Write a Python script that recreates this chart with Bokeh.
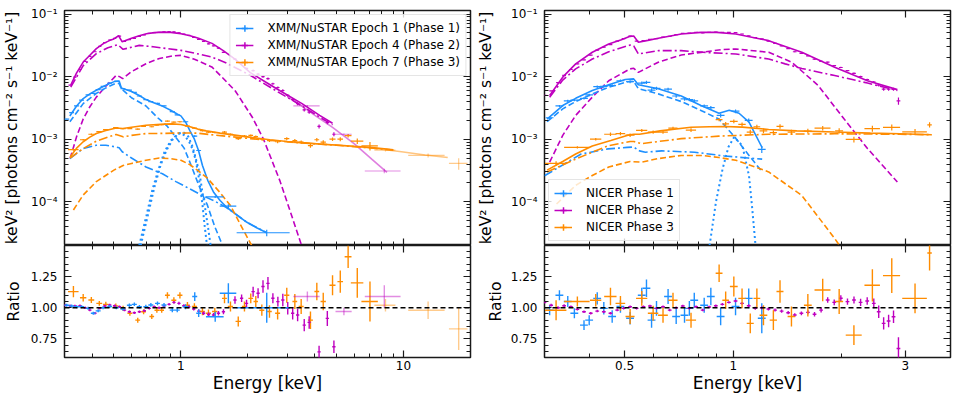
import math
from bokeh.plotting import figure
from bokeh.models import (Range1d, LogAxis, LinearAxis, FixedTicker, CustomJSTickFormatter,
                          Legend, LegendItem, Span, ColumnDataSource)
from bokeh.layouts import row, column
from bokeh.embed import file_html
from bokeh.resources import INLINE

BLUE = "#1E90FF"
MAG = "#BF00BF"
ORG = "#FF8C00"
FONT = "DejaVu Sans"
FRAME = "#1a1a1a"

# ---------------- LEFT PANEL : XMM/NuSTAR models ----------------
Lb_tot_E = [0.317, 0.34, 0.364, 0.39, 0.417, 0.45, 0.48, 0.505, 0.528, 0.54, 0.6, 0.65, 0.697, 0.75, 0.83, 0.9, 0.966, 1.0, 1.052, 1.1, 1.15, 1.2, 1.25, 1.32, 1.406, 1.5, 1.61, 1.8, 1.98, 2.2, 2.43]
Lb_tot_F = [2.35e-3, 3.4e-3, 4.46e-3, 5.3e-3, 6.05e-3, 7.0e-3, 7.8e-3, 8.4e-3, 8.5e-3, 6.6e-3, 5.8e-3, 5.0e-3, 4.3e-3, 3.85e-3, 3.35e-3, 2.9e-3, 2.5e-3, 2.36e-3, 1.85e-3, 1.35e-3, 1.0e-3, 6.6e-4, 3.8e-4, 2.2e-4, 1.4e-4, 1.05e-4, 8.1e-5, 6.0e-5, 4.7e-5, 3.8e-5, 3.2e-5]
Lb_dash_E = [0.317, 0.364, 0.417, 0.46, 0.505, 0.528, 0.54, 0.6, 0.697, 0.787, 0.87, 0.934, 1.034, 1.1, 1.186, 1.25, 1.313, 1.42, 1.53]
Lb_dash_F = [1.9e-3, 3.7e-3, 5.4e-3, 6.6e-3, 7.7e-3, 7.8e-3, 6.4e-3, 4.6e-3, 3.4e-3, 2.2e-3, 1.6e-3, 1.15e-3, 7.2e-4, 4.2e-4, 2.1e-4, 1.3e-4, 9e-5, 4e-5, 2.1e-5]
Lb_dd_E = [0.317, 0.364, 0.417, 0.46, 0.5, 0.528, 0.545, 0.6, 0.697, 0.826, 0.95, 1.1, 1.25, 1.4, 1.61, 1.98, 2.43]
Lb_dd_F = [4.9e-4, 7.1e-4, 8.0e-4, 8.0e-4, 7.6e-4, 7.3e-4, 6.3e-4, 5.0e-4, 3.6e-4, 2.8e-4, 2.1e-4, 1.6e-4, 1.25e-4, 1.05e-4, 8.0e-5, 4.7e-5, 3.2e-5]
Lb_dot1_E = [0.65, 0.70, 0.746, 0.80, 0.843, 0.90, 0.966, 1.0, 1.04, 1.09, 1.13, 1.166, 1.20, 1.227, 1.25, 1.28, 1.31]
Lb_dot1_F = [2e-5, 6e-5, 1.6e-4, 3.6e-4, 6.2e-4, 9.5e-4, 1.2e-3, 1.25e-3, 1.15e-3, 9e-4, 6.8e-4, 4.6e-4, 2.6e-4, 1.5e-4, 9e-5, 4e-5, 2e-5]
Lb_dot2_E = [0.66, 0.71, 0.76, 0.81, 0.86, 0.92, 0.98, 1.03, 1.08, 1.13, 1.18, 1.21, 1.25, 1.29, 1.33, 1.36]
Lb_dot2_F = [2e-5, 6e-5, 1.7e-4, 3.8e-4, 6.6e-4, 1.0e-3, 1.25e-3, 1.28e-3, 1.1e-3, 7.5e-4, 4.2e-4, 3.0e-4, 1.4e-4, 7.2e-5, 3.5e-5, 2e-5]

Lm_tot_E = [0.32, 0.34, 0.364, 0.39, 0.417, 0.45, 0.48, 0.50, 0.525, 0.545, 0.6, 0.65, 0.70, 0.76, 0.83, 0.9, 1.0, 1.1, 1.2, 1.38, 1.55, 1.75, 2.05, 2.4, 2.8, 3.5, 4.2, 4.8]
Lm_tot_F = [7.3e-3, 1.15e-2, 1.71e-2, 2.2e-2, 2.8e-2, 3.4e-2, 3.8e-2, 4.0e-2, 4.5e-2, 3.6e-2, 4.1e-2, 4.5e-2, 4.85e-2, 5.05e-2, 5.15e-2, 5.1e-2, 4.86e-2, 4.5e-2, 4.1e-2, 3.4e-2, 2.6e-2, 1.9e-2, 1.16e-2, 8.2e-3, 5.9e-3, 3.7e-3, 2.4e-3, 1.8e-3]
Lm_nu_E = [3.0, 3.3, 4.0, 4.8, 6.0, 7.2, 8.43]
Lm_nu_F = [4.8e-3, 3.9e-3, 2.4e-3, 1.55e-3, 8.5e-4, 4.8e-4, 2.94e-4]
Lm_dd_E = [0.32, 0.364, 0.417, 0.47, 0.521, 0.55, 0.6, 0.65, 0.75, 0.83, 1.0, 1.2, 1.38, 1.6, 2.05, 2.8, 3.5, 4.2, 4.8]
Lm_dd_F = [6.8e-3, 1.5e-2, 2.33e-2, 2.9e-2, 3.24e-2, 2.73e-2, 2.95e-2, 3.16e-2, 3.0e-2, 2.86e-2, 2.63e-2, 2.3e-2, 2.05e-2, 1.65e-2, 1.05e-2, 5.4e-3, 3.4e-3, 2.25e-3, 1.7e-3]
Lm_dash_E = [0.318, 0.34, 0.364, 0.39, 0.417, 0.46, 0.512, 0.53, 0.548, 0.6, 0.697, 0.8, 0.915, 1.0, 1.15, 1.377, 1.51, 1.756, 2.1, 2.35, 2.55, 2.78, 3.1, 3.47]
Lm_dash_F = [4.9e-4, 1.1e-3, 2.1e-3, 3.3e-3, 4.7e-3, 7.0e-3, 1.05e-2, 1.0e-2, 9.3e-3, 1.2e-2, 1.61e-2, 1.95e-2, 2.14e-2, 2.19e-2, 1.9e-2, 1.43e-2, 1.03e-2, 5.9e-3, 2.2e-3, 1.0e-3, 4.8e-4, 2.2e-4, 7e-5, 2.1e-5]

Lo_tot_E = [0.318, 0.34, 0.364, 0.39, 0.417, 0.46, 0.512, 0.548, 0.6, 0.697, 0.843, 0.915, 1.0, 1.1, 1.19, 1.3, 1.5, 1.78, 2.1, 2.51, 3.0, 3.53, 4.2, 4.97, 6.0, 7.0, 8.0, 9.0]
Lo_tot_F = [5.2e-4, 7.2e-4, 9.1e-4, 1.08e-3, 1.23e-3, 1.38e-3, 1.51e-3, 1.48e-3, 1.55e-3, 1.67e-3, 1.74e-3, 1.76e-3, 1.72e-3, 1.58e-3, 1.45e-3, 1.36e-3, 1.25e-3, 1.15e-3, 1.06e-3, 9.8e-4, 9.2e-4, 8.8e-4, 8.4e-4, 8.1e-4, 7.7e-4, 7.4e-4, 7.1e-4, 6.8e-4]
Lo_nu_E = [3.0, 5.0, 7.0, 9.8, 12.5, 15.8]
Lo_nu_F = [9.0e-4, 8.0e-4, 7.3e-4, 6.3e-4, 5.6e-4, 5.1e-4]
Lo_dd_E = [0.318, 0.364, 0.417, 0.47, 0.512, 0.55, 0.6, 0.697, 0.843, 1.0, 1.186, 1.4, 1.67, 2.0, 2.5, 3.5, 5.0, 7.0, 9.0]
Lo_dd_F = [5.0e-4, 7.1e-4, 9.3e-4, 1.08e-3, 1.19e-3, 1.09e-3, 1.15e-3, 1.23e-3, 1.24e-3, 1.26e-3, 1.25e-3, 1.17e-3, 1.1e-3, 1.03e-3, 9.6e-4, 8.7e-4, 8.0e-4, 7.3e-4, 6.7e-4]
Lo_dash_E = [0.329, 0.364, 0.417, 0.5, 0.55, 0.6, 0.697, 0.8, 0.9, 1.0, 1.1, 1.186, 1.313, 1.5, 1.67, 1.91, 2.08]
Lo_dash_F = [7.4e-5, 1.28e-4, 2.1e-4, 3.2e-4, 3.8e-4, 4.1e-4, 4.6e-4, 5.0e-4, 4.9e-4, 4.6e-4, 3.9e-4, 3.2e-4, 2.4e-4, 1.4e-4, 8.7e-5, 3.5e-5, 2.0e-5]

# ---------------- LEFT PANEL : data (energy, half-width, flux, ratio, ratio error) ----------------
Eb1 = [0.307, 0.323, 0.340, 0.358, 0.383, 0.404, 0.425, 0.447, 0.479, 0.513, 0.549, 0.587, 0.618, 0.651, 0.696, 0.733, 0.785, 0.840, 0.915, 0.963, 1.049, 1.154, 1.202, 1.426, 1.634, 2.43]
dEb1 = [0.008, 0.008, 0.009, 0.009, 0.01, 0.01, 0.011, 0.011, 0.012, 0.013, 0.014, 0.015, 0.016, 0.017, 0.018, 0.019, 0.02, 0.022, 0.024, 0.025, 0.03, 0.03, 0.03, 0.13, 0.14, 0.65]
Fb1 = [2.1e-3, 2.65e-3, 3.4e-3, 4.2e-3, 5.1e-3, 5.4e-3, 6.2e-3, 7.0e-3, 7.9e-3, 8.4e-3, 6.4e-3, 6.1e-3, 5.6e-3, 4.9e-3, 4.3e-3, 4.0e-3, 3.75e-3, 3.4e-3, 2.75e-3, 2.45e-3, 1.9e-3, 1.12e-3, 6.6e-4, 1.2e-4, 8.5e-5, 3.2e-5]
Rb1 = [1.02, 1.014, 1.008, 1.008, 0.995, 0.955, 0.975, 1.0, 1.01, 1.0, 0.99, 1.02, 1.027, 1.008, 1.008, 1.022, 1.035, 1.022, 0.981, 0.981, 1.008, 1.09, 0.955, 0.927, 1.116, 1.0]
eRb1 = [0.012, 0.012, 0.012, 0.012, 0.012, 0.012, 0.012, 0.012, 0.012, 0.012, 0.012, 0.014, 0.014, 0.014, 0.015, 0.015, 0.016, 0.016, 0.018, 0.018, 0.02, 0.035, 0.03, 0.04, 0.08, 0.12]

Em1 = [0.302, 0.318, 0.334, 0.352, 0.371, 0.390, 0.411, 0.432, 0.455, 0.479, 0.504, 0.530, 0.558, 0.587, 0.618, 0.651, 0.685, 0.721, 0.759, 0.798, 0.840, 0.885, 0.931, 0.980, 1.031, 1.085, 1.142, 1.202, 1.265, 1.332, 1.402, 1.475, 1.553, 1.750, 1.874, 1.972, 2.111, 2.222, 2.338, 2.461, 2.590, 2.727, 2.870, 3.020, 3.178, 3.345, 3.582, 3.770, 4.176, 4.548, 4.869]
Fm1 = [6.0e-3, 7.3e-3, 9.8e-3, 1.3e-2, 1.75e-2, 2.1e-2, 2.5e-2, 3.05e-2, 3.5e-2, 3.85e-2, 4.1e-2, 4.45e-2, 3.65e-2, 3.9e-2, 4.1e-2, 4.4e-2, 4.65e-2, 4.9e-2, 5.05e-2, 5.1e-2, 5.2e-2, 5.25e-2, 5.2e-2, 5.0e-2, 4.8e-2, 4.55e-2, 4.25e-2, 3.95e-2, 3.65e-2, 3.35e-2, 3.1e-2, 2.85e-2, 2.45e-2, 1.9e-2, 1.65e-2, 1.35e-2, 1.25e-2, 1.1e-2, 1.0e-2, 9.3e-3, 7.7e-3, 6.7e-3, 6.0e-3, 5.0e-3, 4.3e-3, 3.7e-3, 2.95e-3, 2.7e-3, 1.6e-3, 1.85e-3, 1.2e-3]
Rm1 = [1.02, 1.016, 1.014, 1.016, 1.0, 0.981, 0.955, 0.995, 1.014, 1.022, 1.016, 1.008, 0.981, 0.968, 0.96, 0.968, 0.976, 0.995, 1.008, 1.0, 1.014, 1.027, 1.043, 1.035, 1.016, 1.008, 0.99, 0.973, 0.955, 0.946, 0.941, 0.955, 0.968, 1.062, 1.076, 1.035, 1.129, 1.116, 1.17, 1.196, 1.076, 1.049, 1.062, 0.995, 0.955, 0.941, 0.86, 0.882, 0.645, 0.914, 0.686]
eRm1 = [0.01, 0.01, 0.01, 0.01, 0.01, 0.01, 0.01, 0.01, 0.01, 0.01, 0.01, 0.01, 0.01, 0.01, 0.01, 0.01, 0.01, 0.01, 0.01, 0.01, 0.01, 0.01, 0.012, 0.012, 0.012, 0.012, 0.012, 0.014, 0.014, 0.016, 0.016, 0.018, 0.02, 0.03, 0.03, 0.03, 0.04, 0.04, 0.05, 0.05, 0.04, 0.04, 0.05, 0.05, 0.05, 0.05, 0.05, 0.05, 0.05, 0.06, 0.05]
dEm1_frac = 0.017

Em1n = [3.7, 5.4, 8.2]
dEm1n = [0.5, 0.45, 1.5]
Fm1n = [3.4e-3, 1.2e-3, 3.1e-4]
Rm1n = [1.09, 0.97, 1.09]
eRm1n = [0.04, 0.03, 0.09]

Eo1 = [0.329, 0.364, 0.396, 0.43, 0.46, 0.51, 0.55, 0.59, 0.64, 0.68, 0.74, 0.78, 0.82, 0.87, 0.93, 0.99, 1.07, 1.15, 1.25, 1.33, 1.42, 1.57, 1.67, 1.81, 1.93, 2.06, 2.17, 2.31, 2.5, 2.72, 2.99, 3.25, 3.47, 3.82, 4.08, 4.36, 4.8, 5.2, 5.64, 6.2, 7.07]
dEo1 = [0.018, 0.012, 0.012, 0.013, 0.013, 0.014, 0.015, 0.015, 0.016, 0.017, 0.018, 0.019, 0.02, 0.022, 0.024, 0.026, 0.028, 0.03, 0.032, 0.035, 0.04, 0.04, 0.045, 0.05, 0.05, 0.05, 0.05, 0.06, 0.06, 0.07, 0.08, 0.08, 0.09, 0.1, 0.1, 0.12, 0.15, 0.15, 0.2, 0.4, 0.6]
Fo1 = [6.8e-4, 9.8e-4, 1.2e-3, 1.32e-3, 1.42e-3, 1.53e-3, 1.47e-3, 1.48e-3, 1.45e-3, 1.6e-3, 1.58e-3, 1.68e-3, 1.71e-3, 1.94e-3, 1.88e-3, 1.9e-3, 1.62e-3, 1.5e-3, 1.37e-3, 1.3e-3, 1.28e-3, 1.3e-3, 1.19e-3, 1.02e-3, 1.12e-3, 1.15e-3, 1.1e-3, 1.0e-3, 9.5e-4, 9.1e-4, 1.02e-3, 9.5e-4, 9.0e-4, 7.9e-4, 9.8e-4, 9.0e-4, 1.0e-3, 1.0e-3, 1.14e-3, 9.3e-4, 7.8e-4]
Ro1 = [1.129, 1.08, 1.062, 1.035, 1.027, 1.014, 0.995, 0.955, 0.90, 0.968, 0.93, 0.98, 0.98, 1.10, 1.06, 1.10, 1.02, 1.01, 0.97, 0.955, 0.97, 1.075, 1.01, 0.89, 1.01, 1.075, 1.05, 0.98, 0.97, 0.955, 1.10, 1.05, 1.01, 0.90, 1.13, 1.05, 1.18, 1.21, 1.41, 1.20, 1.05]
eRo1 = [0.045, 0.03, 0.025, 0.02, 0.02, 0.02, 0.02, 0.02, 0.02, 0.02, 0.02, 0.02, 0.02, 0.025, 0.025, 0.025, 0.025, 0.025, 0.03, 0.03, 0.03, 0.04, 0.04, 0.04, 0.04, 0.04, 0.045, 0.045, 0.05, 0.05, 0.06, 0.06, 0.06, 0.07, 0.07, 0.07, 0.08, 0.09, 0.09, 0.12, 0.16]

Eo1n = [8.3, 12.9, 17.7]
dEo1n = [0.9, 2.4, 1.7]
Fo1n = [6.7e-4, 5.5e-4, 4.1e-4]
Ro1n = [1.02, 0.98, 0.83]
eRo1n = [0.05, 0.07, 0.17]

# ---------------- RIGHT PANEL : NICER models ----------------
Rm_tot_E = [0.31, 0.337, 0.366, 0.407, 0.452, 0.49, 0.518, 0.53, 0.546, 0.58, 0.62, 0.718, 0.814, 0.9, 1.017, 1.254, 1.549, 1.91, 2.355, 2.85]
Rm_tot_F = [5.0e-3, 9.8e-3, 1.6e-2, 2.45e-2, 3.32e-2, 3.9e-2, 4.4e-2, 4.45e-2, 3.55e-2, 3.8e-2, 4.1e-2, 4.8e-2, 5.1e-2, 5.1e-2, 4.8e-2, 3.76e-2, 2.45e-2, 1.41e-2, 8.6e-3, 6.2e-3]
Rm_dd_E = [0.31, 0.337, 0.366, 0.407, 0.452, 0.518, 0.53, 0.546, 0.62, 0.718, 0.824, 1.017, 1.254, 1.393, 1.549, 1.91, 2.355, 2.85]
Rm_dd_F = [4.7e-3, 8.8e-3, 1.33e-2, 1.91e-2, 2.5e-2, 3.2e-2, 3.1e-2, 2.3e-2, 2.6e-2, 2.6e-2, 2.45e-2, 2.3e-2, 1.91e-2, 1.6e-2, 1.35e-2, 1.04e-2, 7.9e-3, 6.0e-3]
Rm_dash_E = [0.31, 0.337, 0.366, 0.407, 0.452, 0.518, 0.53, 0.546, 0.62, 0.718, 0.93, 1.017, 1.254, 1.453, 1.72, 2.03, 2.355, 2.85]
Rm_dash_F = [4.3e-4, 1.15e-3, 2.4e-3, 4.7e-3, 8.6e-3, 1.33e-2, 1.36e-2, 1.17e-2, 1.7e-2, 2.22e-2, 2.7e-2, 2.77e-2, 2.45e-2, 1.7e-2, 7.2e-3, 2.1e-3, 7.1e-4, 2.07e-4]

Rb_tot_E = [0.305, 0.337, 0.366, 0.407, 0.452, 0.502, 0.53, 0.546, 0.62, 0.718, 0.814, 0.913, 0.975, 1.038, 1.106, 1.203]
Rb_tot_F = [2.1e-3, 3.45e-3, 4.5e-3, 6.0e-3, 7.4e-3, 9.0e-3, 9.2e-3, 7.4e-3, 6.4e-3, 4.9e-3, 3.45e-3, 2.6e-3, 2.9e-3, 2.6e-3, 1.88e-3, 7.3e-4]
Rb_dash_E = [0.305, 0.337, 0.366, 0.407, 0.452, 0.51, 0.53, 0.546, 0.62, 0.718, 0.814, 0.913, 1.017, 1.106, 1.203]
Rb_dash_F = [1.9e-3, 3.05e-3, 4.0e-3, 5.3e-3, 6.76e-3, 8.3e-3, 8.4e-3, 6.4e-3, 5.3e-3, 4.0e-3, 2.88e-3, 2.1e-3, 1.03e-3, 5.5e-4, 3.0e-4]
Rb_dd_E = [0.30, 0.379, 0.45, 0.508, 0.53, 0.55, 0.571, 0.634, 0.782, 0.945, 1.1, 1.203]
Rb_dd_F = [2.6e-4, 5.8e-4, 7.0e-4, 7.4e-4, 7.5e-4, 6.5e-4, 6.2e-4, 6.5e-4, 6.2e-4, 5.4e-4, 5.0e-4, 4.8e-4]
Rb_dot_E = [0.86, 0.896, 0.935, 0.97, 1.006, 1.06, 1.106, 1.129, 1.153]
Rb_dot_F = [2e-5, 1.0e-4, 3.4e-4, 7.5e-4, 1.08e-3, 7.9e-4, 2.6e-4, 7.8e-5, 2e-5]

Ro_tot_E = [0.305, 0.337, 0.366, 0.407, 0.458, 0.508, 0.53, 0.55, 0.627, 0.764, 0.86, 0.95, 1.06, 1.254, 1.5, 1.91, 2.4, 2.9, 3.55]
Ro_tot_F = [3.2e-4, 4.4e-4, 5.8e-4, 7.8e-4, 9.5e-4, 1.15e-3, 1.2e-3, 1.2e-3, 1.36e-3, 1.55e-3, 1.58e-3, 1.6e-3, 1.56e-3, 1.43e-3, 1.36e-3, 1.3e-3, 1.25e-3, 1.22e-3, 1.18e-3]
Ro_dd_E = [0.305, 0.366, 0.407, 0.452, 0.518, 0.53, 0.557, 0.718, 0.913, 1.254, 1.91, 2.9, 3.55]
Ro_dd_F = [3.0e-4, 4.8e-4, 6.2e-4, 7.9e-4, 9.2e-4, 9.2e-4, 8.5e-4, 1.02e-3, 1.12e-3, 1.2e-3, 1.22e-3, 1.2e-3, 1.18e-3]
Ro_dash_E = [0.324, 0.366, 0.407, 0.452, 0.518, 0.557, 0.62, 0.718, 0.82, 0.913, 1.017, 1.254, 1.549, 1.91, 1.97]
Ro_dash_F = [9.2e-5, 1.83e-4, 2.63e-4, 3.6e-4, 4.4e-4, 4.3e-4, 4.9e-4, 5.5e-4, 5.5e-4, 5.1e-4, 4.6e-4, 3.0e-4, 1.26e-4, 2.6e-5, 2.0e-5]

# ---------------- RIGHT PANEL : NICER data ----------------
Eb2 = [0.31, 0.33, 0.348, 0.363, 0.386, 0.399, 0.42, 0.438, 0.462, 0.487, 0.518, 0.558, 0.575, 0.594, 0.613, 0.66, 0.695, 0.733, 0.756, 0.78, 0.831, 0.867, 0.923, 1.015, 1.104, 1.2]
Fb2 = [2.2e-3, 3.4e-3, 4.1e-3, 4.2e-3, 4.5e-3, 5.1e-3, 6.9e-3, 7.0e-3, 7.2e-3, 8.6e-3, 8.3e-3, 7.9e-3, 8.1e-3, 6.1e-3, 6.5e-3, 6.3e-3, 4.9e-3, 4.4e-3, 4.3e-3, 4.1e-3, 3.4e-3, 3.2e-3, 2.4e-3, 2.8e-3, 2.0e-3, 6.9e-4]
Rb2 = [0.98, 1.10, 1.05, 0.955, 0.86, 0.90, 1.075, 0.995, 0.93, 1.01, 0.915, 1.10, 1.156, 0.90, 0.995, 1.09, 0.93, 0.94, 0.995, 1.06, 1.02, 1.09, 0.93, 1.01, 1.075, 0.915]
eRb2 = [0.04, 0.04, 0.045, 0.04, 0.04, 0.04, 0.05, 0.05, 0.05, 0.05, 0.05, 0.06, 0.07, 0.06, 0.06, 0.06, 0.06, 0.06, 0.06, 0.06, 0.06, 0.07, 0.07, 0.07, 0.08, 0.12]
dEb2_frac = 0.025

Em2 = [0.300, 0.313, 0.327, 0.340, 0.355, 0.370, 0.386, 0.403, 0.420, 0.438, 0.457, 0.477, 0.497, 0.518, 0.540, 0.564, 0.588, 0.613, 0.639, 0.667, 0.695, 0.725, 0.756, 0.789, 0.823, 0.858, 0.895, 0.933, 0.973, 1.015, 1.058, 1.104, 1.151, 1.200, 1.252, 1.306, 1.362, 1.420, 1.481, 1.545, 1.611, 1.680, 1.752, 1.827, 1.905, 1.987, 2.073, 2.161, 2.254, 2.351, 2.452, 2.530, 2.611, 2.695, 2.781, 2.870]
Fm2 = [5.0e-3, 5.9e-3, 8.0e-3, 1.05e-2, 1.3e-2, 1.6e-2, 1.85e-2, 2.2e-2, 2.65e-2, 2.95e-2, 3.25e-2, 3.7e-2, 4.05e-2, 4.45e-2, 3.7e-2, 3.75e-2, 3.95e-2, 4.05e-2, 4.3e-2, 4.4e-2, 4.7e-2, 4.9e-2, 4.95e-2, 5.1e-2, 5.0e-2, 5.1e-2, 5.15e-2, 5.1e-2, 5.1e-2, 5.05e-2, 4.8e-2, 4.5e-2, 4.2e-2, 4.0e-2, 3.7e-2, 3.4e-2, 3.1e-2, 2.8e-2, 2.5e-2, 2.35e-2, 2.15e-2, 1.9e-2, 1.75e-2, 1.7e-2, 1.5e-2, 1.4e-2, 1.25e-2, 1.13e-2, 1.0e-2, 9.0e-3, 8.2e-3, 7.3e-3, 6.3e-3, 6.3e-3, 6.3e-3, 4.1e-3]
Rm2 = [1.043, 1.02, 1.0, 1.016, 1.008, 0.987, 0.968, 0.955, 0.973, 0.968, 0.955, 0.981, 0.995, 1.008, 0.995, 1.008, 1.014, 0.995, 1.008, 0.981, 1.0, 1.014, 0.995, 1.008, 0.981, 1.006, 1.016, 1.027, 1.043, 1.054, 1.035, 1.016, 0.995, 1.0, 0.99, 0.981, 0.973, 0.96, 0.941, 0.955, 0.963, 0.947, 0.981, 1.062, 1.043, 1.076, 1.049, 1.062, 1.043, 1.054, 1.035, 0.968, 0.874, 0.893, 0.928, 0.672]
eRm2 = [0.012, 0.011, 0.011, 0.011, 0.01, 0.01, 0.01, 0.01, 0.01, 0.01, 0.01, 0.01, 0.01, 0.01, 0.01, 0.01, 0.01, 0.01, 0.01, 0.01, 0.01, 0.01, 0.01, 0.01, 0.01, 0.01, 0.01, 0.01, 0.01, 0.011, 0.011, 0.011, 0.012, 0.012, 0.012, 0.012, 0.013, 0.013, 0.014, 0.015, 0.016, 0.018, 0.02, 0.022, 0.024, 0.025, 0.026, 0.028, 0.03, 0.03, 0.04, 0.05, 0.05, 0.05, 0.05, 0.09]
dEm2_frac = 0.012

Eo2 = [0.323, 0.37, 0.416, 0.457, 0.487, 0.518, 0.558, 0.60, 0.639, 0.681, 0.764, 0.914, 0.953, 1.004, 1.058, 1.115, 1.163, 1.213, 1.292, 1.348, 1.45, 1.61, 1.77, 1.966, 2.16, 2.43, 2.75, 3.19, 3.5]
dEo2 = [0.022, 0.03, 0.015, 0.018, 0.015, 0.015, 0.02, 0.02, 0.02, 0.02, 0.025, 0.02, 0.02, 0.025, 0.025, 0.025, 0.025, 0.03, 0.03, 0.03, 0.035, 0.04, 0.09, 0.05, 0.11, 0.12, 0.15, 0.25, 0.05]
Fo2 = [4.1e-4, 7.4e-4, 1.0e-3, 1.2e-3, 1.23e-3, 1.16e-3, 1.38e-3, 1.3e-3, 1.3e-3, 1.5e-3, 1.4e-3, 2.05e-3, 1.76e-3, 1.93e-3, 1.72e-3, 1.3e-3, 1.58e-3, 1.36e-3, 1.27e-3, 1.6e-3, 1.3e-3, 1.35e-3, 1.5e-3, 1.36e-3, 9.9e-4, 1.48e-3, 1.55e-3, 1.31e-3, 1.7e-3]
Ro2 = [0.98, 1.05, 1.06, 1.09, 1.035, 0.93, 1.075, 0.955, 0.94, 1.06, 0.90, 1.277, 1.06, 1.17, 1.075, 0.874, 1.075, 0.94, 0.90, 1.13, 0.93, 1.02, 1.143, 1.05, 0.78, 1.18, 1.258, 1.075, 1.44]
eRo2 = [0.08, 0.04, 0.05, 0.07, 0.06, 0.06, 0.06, 0.06, 0.06, 0.06, 0.06, 0.07, 0.07, 0.08, 0.08, 0.08, 0.08, 0.08, 0.08, 0.09, 0.08, 0.09, 0.09, 0.1, 0.08, 0.13, 0.14, 0.12, 0.14]

# ---------------- axis ticks / labels ----------------
L_XMAJ = [1, 10]
L_XMIN = [0.3, 0.4, 0.5, 0.6, 0.7, 0.8, 0.9, 2, 3, 4, 5, 6, 7, 8, 9, 20]
R_XMAJ = [0.5, 1, 3]
R_XMIN = [0.3, 0.4, 0.6, 0.7, 0.8, 0.9, 2, 4]
Y_MAJ = [1e-4, 1e-3, 1e-2, 1e-1]
Y_MIN = [m * 10.0 ** k for k in (-5, -4, -3, -2, -1) for m in range(2, 10)]
R_MAJ = [0.75, 1.0, 1.25]
R_MIN = [round(0.6 + 0.05 * i, 2) for i in range(19)]
Y_LO, Y_HI = 2e-5, 0.114
R_LO, R_HI = 0.6, 1.5

YLAB = "keV² [photons cm⁻² s⁻¹ keV⁻¹]"
XLAB = "Energy [keV]"

SUP = CustomJSTickFormatter(code="""
const m = {"-":"⁻","0":"⁰","1":"¹","2":"²","3":"³","4":"⁴","5":"⁵","6":"⁶","7":"⁷","8":"⁸","9":"⁹"};
const e = Math.round(Math.log10(tick));
return "10" + String(e).split("").map(c => m[c]).join("");
""")
PLAIN = CustomJSTickFormatter(code="return String(Math.round(tick*100)/100);")
FIX2 = CustomJSTickFormatter(code="return tick.toFixed(2);")
BLANK = CustomJSTickFormatter(code="return '';")

# layout sizes (page has no margin in the Bokeh template: use full 954 x 396)
TOP_H, BOT_H = 245, 151
LW, RW = 474, 480
L_MBL, R_MBL = 60, 66


def style_axis(ax, major, minor, formatter, show, label=None, lsize="15px", lstand=2):
    ax.ticker = FixedTicker(ticks=major, minor_ticks=minor)
    ax.formatter = formatter if show else BLANK
    ax.major_tick_in = 7
    ax.major_tick_out = 0
    ax.minor_tick_in = 4
    ax.minor_tick_out = 0
    ax.major_tick_line_color = FRAME
    ax.minor_tick_line_color = FRAME
    ax.major_tick_line_width = 1.2
    ax.minor_tick_line_width = 1
    ax.axis_line_color = None
    ax.major_label_text_font = FONT
    ax.major_label_text_color = "black"
    if show:
        ax.major_label_text_font_size = "12px"
        ax.major_label_standoff = 7
    else:
        ax.major_label_text_font_size = "1px"
        ax.major_label_standoff = 0
    if label:
        ax.axis_label = label
        ax.axis_label_text_font = FONT
        ax.axis_label_text_font_size = lsize
        ax.axis_label_text_font_style = "normal"
        ax.axis_label_text_color = "black"
        ax.axis_label_standoff = lstand


def base(p):
    p.grid.visible = False
    p.outline_line_color = FRAME
    p.outline_line_width = 1.5
    p.background_fill_color = "white"
    p.border_fill_color = "white"


def hidden_axes(p, xmaj, xmin, ymaj, ymin, ylog, xend, ylo, yhi, with_below):
    a = LogAxis(fixed_location=yhi)
    style_axis(a, xmaj, xmin, PLAIN, False)
    p.add_layout(a, "above")
    if with_below:
        c = LogAxis(fixed_location=ylo)
        style_axis(c, xmaj, xmin, PLAIN, False)
        p.add_layout(c, "below")
    b = LogAxis(fixed_location=xend) if ylog else LinearAxis(fixed_location=xend)
    style_axis(b, ymaj, ymin, PLAIN, False)
    p.add_layout(b, "right")


def top_fig(xend, w, mbl, mbr, xmaj, xmin, ystand):
    p = figure(width=w, height=TOP_H, x_axis_type="log", y_axis_type="log",
               x_axis_location=None,
               x_range=Range1d(0.3, xend), y_range=Range1d(Y_LO, Y_HI),
               output_backend="svg", toolbar_location=None,
               min_border_left=mbl, min_border_right=mbr, min_border_top=10, min_border_bottom=0)
    base(p)
    style_axis(p.yaxis[0], Y_MAJ, Y_MIN, SUP, True, YLAB, "15.5px", ystand)
    hidden_axes(p, xmaj, xmin, Y_MAJ, Y_MIN, True, xend, Y_LO, Y_HI, True)
    return p


def bot_fig(xend, w, mbl, mbr, xmaj, xmin, ystand):
    p = figure(width=w, height=BOT_H, x_axis_type="log", y_axis_type="linear",
               x_range=Range1d(0.3, xend), y_range=Range1d(R_LO, R_HI),
               output_backend="svg", toolbar_location=None,
               min_border_left=mbl, min_border_right=mbr, min_border_top=0, min_border_bottom=39)
    base(p)
    style_axis(p.xaxis[0], xmaj, xmin, PLAIN, True, XLAB, "17px", 0)
    p.xaxis[0].major_label_standoff = 3
    style_axis(p.yaxis[0], R_MAJ, R_MIN, FIX2, True, "Ratio", "15.5px", ystand)
    hidden_axes(p, xmaj, xmin, R_MAJ, R_MIN, False, xend, R_LO, R_HI, False)
    p.add_layout(Span(location=1.0, dimension="width", line_color="black",
                      line_dash="5 3", line_width=1.4))
    return p


def model(p, E, F, color, dash="solid", lw=1.6, alpha=1.0):
    p.line(x=E, y=F, line_color=color, line_width=lw, line_dash=dash, line_alpha=alpha)


def crosses(p, E, dE, Y, dY, color, alpha=1.0, lw=1.3):
    src = ColumnDataSource(dict(
        x=E, y=Y,
        xl=[e - d for e, d in zip(E, dE)], xh=[e + d for e, d in zip(E, dE)],
        yl=[y - d for y, d in zip(Y, dY)], yh=[y + d for y, d in zip(Y, dY)]))
    p.segment(x0="xl", y0="y", x1="xh", y1="y", source=src, line_color=color,
              line_width=lw, line_alpha=alpha)
    p.segment(x0="x", y0="yl", x1="x", y1="yh", source=src, line_color=color,
              line_width=lw, line_alpha=alpha)


def spec_and_ratio(pt, pr, E, dE, F, R, eR, color, alpha=1.0):
    dF = [f * e / r for f, e, r in zip(F, eR, R)]
    crosses(pt, E, dE, F, dF, color, alpha, 1.2)
    crosses(pr, E, dE, R, eR, color, alpha, 1.4)


DASH = "6 3"
DDOT = "9 3 2 3"
DOT = "2 3"

# ---------------- build left ----------------
lt = top_fig(20, LW, L_MBL, 4, L_XMAJ, L_XMIN, 7)
lb = bot_fig(20, LW, L_MBL, 4, L_XMAJ, L_XMIN, 5)

model(lt, Lm_dash_E, Lm_dash_F, MAG, DASH)
model(lt, Lm_dd_E, Lm_dd_F, MAG, DDOT)
model(lt, Lm_tot_E, Lm_tot_F, MAG)
model(lt, Lm_nu_E, Lm_nu_F, MAG, alpha=0.5)
model(lt, Lb_dot1_E, Lb_dot1_F, BLUE, DOT, 2)
model(lt, Lb_dot2_E, Lb_dot2_F, BLUE, DOT, 2)
model(lt, Lb_dash_E, Lb_dash_F, BLUE, DASH)
model(lt, Lb_dd_E, Lb_dd_F, BLUE, DDOT)
model(lt, Lb_tot_E, Lb_tot_F, BLUE)
model(lt, Lo_dash_E, Lo_dash_F, ORG, DASH)
model(lt, Lo_dd_E, Lo_dd_F, ORG, DDOT)
model(lt, Lo_tot_E, Lo_tot_F, ORG)
model(lt, Lo_nu_E, Lo_nu_F, ORG, alpha=0.5)

spec_and_ratio(lt, lb, Eo1, dEo1, Fo1, Ro1, eRo1, ORG)
spec_and_ratio(lt, lb, Eo1n, dEo1n, Fo1n, Ro1n, eRo1n, ORG, 0.45)
spec_and_ratio(lt, lb, Em1, [e * dEm1_frac for e in Em1], Fm1, Rm1, eRm1, MAG)
spec_and_ratio(lt, lb, Em1n, dEm1n, Fm1n, Rm1n, eRm1n, MAG, 0.45)
spec_and_ratio(lt, lb, Eb1, dEb1, Fb1, Rb1, eRb1, BLUE)

# ---------------- build right ----------------
rt = top_fig(4, RW, R_MBL, 4, R_XMAJ, R_XMIN, 13)
rb = bot_fig(4, RW, R_MBL, 4, R_XMAJ, R_XMIN, 3)

model(rt, Rm_dash_E, Rm_dash_F, MAG, DASH)
model(rt, Rm_dd_E, Rm_dd_F, MAG, DDOT)
model(rt, Rm_tot_E, Rm_tot_F, MAG)
model(rt, Rb_dot_E, Rb_dot_F, BLUE, DOT, 2)
model(rt, Rb_dash_E, Rb_dash_F, BLUE, DASH)
model(rt, Rb_dd_E, Rb_dd_F, BLUE, DDOT)
model(rt, Rb_tot_E, Rb_tot_F, BLUE)
model(rt, Ro_dash_E, Ro_dash_F, ORG, DASH)
model(rt, Ro_dd_E, Ro_dd_F, ORG, DDOT)
model(rt, Ro_tot_E, Ro_tot_F, ORG)

spec_and_ratio(rt, rb, Eb2, [e * dEb2_frac for e in Eb2], Fb2, Rb2, eRb2, BLUE)
spec_and_ratio(rt, rb, Em2, [e * dEm2_frac for e in Em2], Fm2, Rm2, eRm2, MAG)
spec_and_ratio(rt, rb, Eo2, dEo2, Fo2, Ro2, eRo2, ORG)


# ---------------- legends ----------------
def legend(p, labels, colors, loc):
    items = []
    for lab, col in zip(labels, colors):
        src = ColumnDataSource(dict(x=[float("nan")], y=[float("nan")]))
        r1 = p.line(x="x", y="y", source=src, line_color=col, line_width=1.5)
        r2 = p.scatter(x="x", y="y", source=src, marker="cross", size=10,
                       line_color=col, line_width=1.5)
        items.append(LegendItem(label=lab, renderers=[r1, r2]))
    leg = Legend(items=items, location=loc, margin=4, padding=5, spacing=1,
                 glyph_width=18, glyph_height=16, label_height=14, label_standoff=14,
                 label_text_font=FONT, label_text_font_size="12px",
                 label_text_color="black",
                 border_line_color="#cccccc", border_line_width=1,
                 background_fill_color="white", background_fill_alpha=0.8)
    p.add_layout(leg)


legend(lt, ["XMM/NuSTAR Epoch 1 (Phase 1)", "XMM/NuSTAR Epoch 4 (Phase 2)",
            "XMM/NuSTAR Epoch 7 (Phase 3)"], [BLUE, MAG, ORG], "top_right")
legend(rt, ["NICER Phase 1", "NICER Phase 2", "NICER Phase 3"], [BLUE, MAG, ORG], "bottom_left")

layout = row(column(lt, lb), column(rt, rb))
open("out.html", "w").write(file_html(layout, INLINE))
